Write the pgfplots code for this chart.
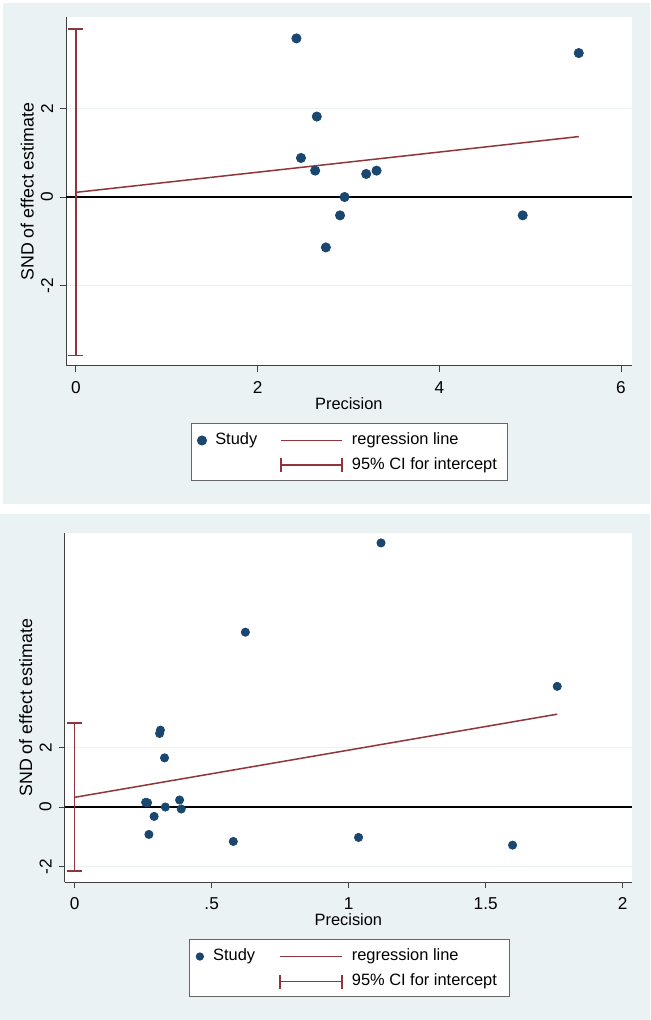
\documentclass[border=0pt]{standalone}
\usepackage{fontspec}
\setmainfont{Liberation Sans}
\usepackage{pgfplots}
\pgfplotsset{compat=1.18}
\definecolor{bgc}{HTML}{EAF2F3}
\definecolor{navy}{HTML}{1A476F}
\definecolor{maroon}{HTML}{90353B}
\definecolor{axc}{HTML}{404040}
\newcommand\fs{\fontsize{8.2}{9.5}\selectfont}
\newcommand\ft{\fontsize{8.6}{10}\selectfont}
\newcommand\fy{\fontsize{8.9}{10}\selectfont}
\pgfplotsset{
  panel/.style={
    anchor=south west, scale only axis,
    axis x line*=bottom, axis y line*=left,
    axis line style={draw=axc, line width=0.5pt, -},
    axis background/.style={fill=white},
    tick align=outside, major tick length=3pt,
    tick style={draw=axc, line width=0.5pt},
    minor tick num=0,
    ytick={-2,0,2}, yticklabels={-2,0,2},
    ymajorgrids, major grid style={draw=bgc, line width=0.6pt},
    xticklabel style={anchor=north, inner sep=0pt, font=\ft},
    xticklabel shift=4.5pt,
    yticklabel style={rotate=90, anchor=south, inner sep=0pt, font=\ft},
    yticklabel shift=3.25pt,
    xlabel={Precision}, ylabel={SND of effect estimate},
    xlabel style={at={([yshift=-15.6pt]axis description cs:0.5,0)}, anchor=north, inner sep=0pt, font=\fs},
    ylabel style={at={([xshift=-15.85pt]axis description cs:0,0.5)}, anchor=south, inner sep=0pt, font=\fy},
    legend columns=2,
    legend style={anchor=north west, draw=black!60, line width=0.5pt, fill=white,
      inner xsep=0pt, inner ysep=0pt, row sep=0pt, column sep=0pt,
      nodes={inner sep=0pt, font=\fs}},
    clip=false,
  }
}
\begin{document}
\begin{tikzpicture}[x=1pt,y=1pt]
\fill[white] (0,0) rectangle (325,-510);
\fill[bgc] (1.5,-1.5) rectangle (325,-252);
\fill[bgc] (0,-257) rectangle (325,-510);
% ---------------- top panel ----------------
\begin{axis}[panel,
  at={(33pt,-183pt)}, width=282.85pt, height=174.35pt,
  xmin=-0.110, xmax=6.118, ymin=-3.812, ymax=4.054,
  xtick={0,2,4,6}, xticklabels={0,2,4,6},
  legend style={at={(axis description cs:0.2204,-0.1626)}},
]
\addplot[forget plot, black, line width=0.75pt] coordinates {(-0.110,0) (6.118,0)};
\addplot[forget plot, maroon, line width=0.75pt, mark=none,
  error bars/.cd, y dir=both, y explicit,
  error bar style={maroon, line width=0.75pt},
  error mark options={maroon, line width=0.75pt, mark size=3.75pt, rotate=90}]
  coordinates {(0,0.11) +- (0,3.68)};
\addplot[forget plot, only marks, mark=*, mark size=2.3pt, mark options={draw=navy, fill=navy}]
  coordinates {(2.427,3.578) (5.535,3.247) (2.651,1.815) (2.477,0.881) (2.633,0.595)
  (3.195,0.520) (3.309,0.595) (2.957,0.0) (2.907,-0.414) (2.751,-1.137) (4.918,-0.414)};
\addplot[forget plot, maroon, line width=0.75pt] coordinates {(0,0.105) (5.535,1.363)};
\addlegendimage{legend image code/.code={\path[draw=none,fill=none] (0pt,-6.075pt) rectangle (12.05pt,8.65pt); \fill[navy] (5.4pt,0pt) circle (2.25pt);}}
\addlegendentry{\makebox[32.6pt][l]{Study}}
\addlegendimage{legend image code/.code={\path[draw=none,fill=none] (0pt,-6.075pt) rectangle (35.35pt,8.65pt); \draw[maroon, line width=0.75pt] (0pt,0pt) -- (30.5pt,0pt);}}
\addlegendentry{\makebox[78pt][l]{regression line}}
\addlegendimage{legend image code/.code={\path[draw=none,fill=none] (0pt,-7.85pt) rectangle (1pt,6.075pt);}}
\addlegendentry{\mbox{}}
\addlegendimage{legend image code/.code={\path[draw=none,fill=none] (0pt,-7.85pt) rectangle (35.35pt,6.075pt); \draw[maroon, line width=0.75pt] (0pt,0pt) -- (30.5pt,0pt); \draw[maroon, line width=0.75pt] (0pt,-3.5pt) -- (0pt,3.5pt) (30.5pt,-3.5pt) -- (30.5pt,3.5pt);}}
\addlegendentry{\makebox[78pt][l]{95\% CI for intercept}}
\end{axis}
% ---------------- bottom panel ----------------
\begin{axis}[panel,
  at={(32.25pt,-441.15pt)}, width=283.9pt, height=174.65pt,
  xmin=-0.037, xmax=2.035, ymin=-2.53, ymax=9.21,
  xtick={0,0.5,1,1.5,2}, xticklabels={0,.5,1,1.5,2},
  legend style={at={(axis description cs:0.2201,-0.1632)}},
]
\addplot[forget plot, black, line width=0.75pt] coordinates {(-0.037,0) (2.035,0)};
\addplot[forget plot, maroon, line width=0.75pt, mark=none,
  error bars/.cd, y dir=both, y explicit,
  error bar style={maroon, line width=0.75pt},
  error mark options={maroon, line width=0.75pt, mark size=3.75pt, rotate=90}]
  coordinates {(0,0.34) +- (0,2.49)};
\addplot[forget plot, only marks, mark=*, mark size=2.05pt, mark options={draw=navy, fill=navy}]
  coordinates {(1.118,8.876) (0.623,5.876) (1.761,4.056) (0.313,2.584) (0.310,2.472)
  (0.328,1.652) (0.259,0.157) (0.266,0.146) (0.383,0.236) (0.331,0.0) (0.389,-0.067)
  (0.290,-0.315) (0.271,-0.921) (0.579,-1.157) (1.036,-1.022) (1.598,-1.281)};
\addplot[forget plot, maroon, line width=0.75pt] coordinates {(0,0.326) (1.761,3.12)};
\addlegendimage{legend image code/.code={\path[draw=none,fill=none] (0pt,-6.25pt) rectangle (11.6pt,8.35pt); \fill[navy] (4.95pt,0pt) circle (1.8pt);}}
\addlegendentry{\makebox[33.15pt][l]{Study}}
\addlegendimage{legend image code/.code={\path[draw=none,fill=none] (0pt,-6.25pt) rectangle (35.85pt,8.35pt); \draw[maroon, line width=0.75pt] (0pt,0pt) -- (30.9pt,0pt);}}
\addlegendentry{\makebox[78.6pt][l]{regression line}}
\addlegendimage{legend image code/.code={\path[draw=none,fill=none] (0pt,-7.3pt) rectangle (1pt,6.25pt);}}
\addlegendentry{\mbox{}}
\addlegendimage{legend image code/.code={\path[draw=none,fill=none] (0pt,-7.3pt) rectangle (35.85pt,6.25pt); \draw[maroon, line width=0.75pt] (0pt,0pt) -- (30.9pt,0pt); \draw[maroon, line width=0.75pt] (0pt,-3.5pt) -- (0pt,3.5pt) (30.9pt,-3.5pt) -- (30.9pt,3.5pt);}}
\addlegendentry{\makebox[78.6pt][l]{95\% CI for intercept}}
\end{axis}
\end{tikzpicture}
\end{document}
